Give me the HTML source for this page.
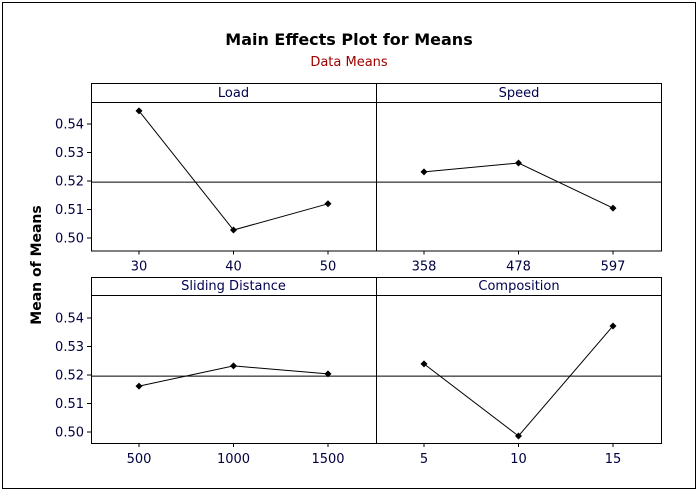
<!DOCTYPE html>
<html><head><meta charset="utf-8"><style>
body{margin:0;background:#fff}
svg text{font-family:"DejaVu Sans","Liberation Sans",sans-serif}
</style></head><body>
<svg id="c" width="699" height="492" xmlns="http://www.w3.org/2000/svg">
<rect x="2.5" y="2.5" width="693" height="486" fill="#fff" stroke="#000"/>
<text x="349" y="45" text-anchor="middle" font-size="16" font-weight="bold">Main Effects Plot for Means</text>
<text x="349" y="66" text-anchor="middle" font-size="13" fill="#a00000">Data Means</text>
<text transform="translate(41,265) rotate(-90)" text-anchor="middle" font-size="14" font-weight="bold">Mean of Means</text>
</svg>
<script>
const panelTitles=["Load","Speed","Sliding Distance","Composition"];
const loadLevels=["30","40","50"];
const speedLevels=["358","478","597"];
const slidingLevels=["500","1000","1500"];
const compLevels=["5","10","15"];
const loadMeans=[0.5446,0.5028,0.5120];
const speedMeans=[0.5232,0.5263,0.5105];
const slidingMeans=[0.5161,0.5232,0.5204];
const compMeans=[0.5239,0.4986,0.5372];
const grandMean=0.5196;
const yTicks=[0.50,0.51,0.52,0.53,0.54];
const yTickLabels=["0.50","0.51","0.52","0.53","0.54"];

const svg=document.getElementById('c');
const NS="http://www.w3.org/2000/svg";
function mk(t,a,p){const e=document.createElementNS(NS,t);for(const k in a)e.setAttribute(k,a[k]);(p||svg).appendChild(e);return e;}
const rows=[{top:83,strip:102,bottom:250.5},{top:277,strip:295,bottom:443}];
const cols=[{l:91,r:376},{l:376,r:662}];
const panels=[[loadLevels,loadMeans],[speedLevels,speedMeans],[slidingLevels,slidingMeans],[compLevels,compMeans]];
rows.forEach((row,ri)=>{
  const y0=ri===0?238:432;
  const ys=v=>y0-(v-0.50)*2850;
  const fr=mk('rect',{x:91.5,y:row.top+0.5,width:570,height:row.bottom-row.top,fill:'none',stroke:'#000'});
  
  
  mk('line',{x1:91,x2:662,y1:row.strip+0.5,y2:row.strip+0.5,stroke:'#000'});
  mk('line',{x1:376.5,x2:376.5,y1:row.top,y2:row.bottom,stroke:'#000'});
  yTicks.forEach((t,i)=>{
    const y=ys(t);
    const tk=mk('line',{x1:87,x2:91,y1:y,y2:y,stroke:'#000'});
    
    
    const lb=mk('text',{x:84,y:y+4.5,'text-anchor':'end','font-size':13,fill:'#000040'});
    lb.textContent=yTickLabels[i];
    
    
  });
  cols.forEach((col,ci)=>{
    const pi=ri*2+ci;
    const [lv,mv]=panels[pi];
    const tt=mk('text',{x:(col.l+col.r)/2,y:row.strip-5,'text-anchor':'middle','font-size':13,fill:'#000050'});
    tt.textContent=panelTitles[pi];
    
    
    const gm=mk('line',{x1:col.l,x2:col.r,y1:ys(grandMean),y2:ys(grandMean),stroke:'#000'});
    
    
    const xs=i=>col.l+48+i*94.5;
    const pts=mv.map((v,i)=>xs(i)+','+ys(v)).join(' ');
    const pl=mk('polyline',{points:pts,fill:'none',stroke:'#000','stroke-width':1});
    
    
    mv.forEach((v,i)=>{
      const d=mk('path',{d:`M${xs(i)} ${ys(v)-3.5}L${xs(i)+3.5} ${ys(v)}L${xs(i)} ${ys(v)+3.5}L${xs(i)-3.5} ${ys(v)}Z`,fill:'#000'});
      
      
      const tk=mk('line',{x1:xs(i),x2:xs(i),y1:row.bottom,y2:row.bottom+4,stroke:'#000'});
      
      
      const lb=mk('text',{x:xs(i),y:row.bottom+20,'text-anchor':'middle','font-size':13,fill:'#000040'});
      lb.textContent=lv[i];
      
      
    });
  });
});
</script>
</body></html>
